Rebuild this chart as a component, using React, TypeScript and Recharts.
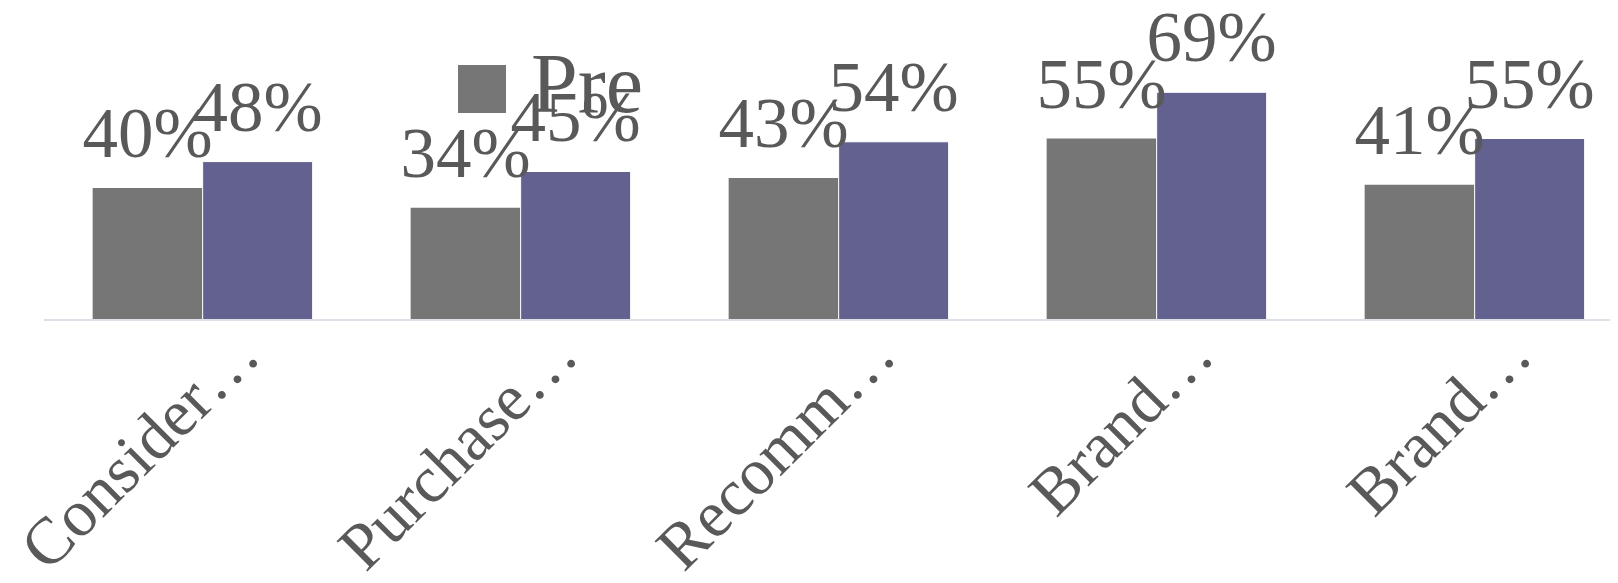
import React from "react";
import { BarChart, Bar, XAxis, YAxis, LabelList, Legend } from "recharts";

const categories = ["Consider…", "Purchase…", "Recomm…", "Brand…", "Brand…"];
const preValues = [40, 34, 43, 55, 41];
const postValues = [48, 45, 54, 69, 55];
const seriesNames = ["Pre", "Post"];

const data = categories.map((c, i) => ({
  id: i,
  name: c,
  pre: preValues[i],
  post: postValues[i],
}));

const FONT = "'Liberation Serif', 'Times New Roman', serif";
const TEXT = "#595959";
const GRAY = "#767676";
const PURPLE = "#62618f";

const CustomTick = (props: any) => {
  const { x, y, payload } = props;
  const ax = x + 60;
  const ay = y + 38;
  return (
    <text
      x={ax}
      y={ay}
      transform={`rotate(-45 ${ax} ${ay})`}
      textAnchor="end"
      fontFamily={FONT}
      fontSize={66}
      fill={TEXT}
    >
      {categories[payload.index] ?? payload.value}
    </text>
  );
};

const LegendContent = () => (
  <svg width={220} height={70} style={{ overflow: "visible", display: "block" }}>
    <rect x={0} y={0} width={48} height={48} fill={GRAY} />
    <text x={73} y={47} fontFamily={FONT} fontSize={84} fill={TEXT}>
      {seriesNames[0]}
    </text>
  </svg>
);

export default function App() {
  return (
    <div style={{ width: 1610, height: 567, overflow: "hidden", position: "relative" }}>
      <BarChart
        width={1626}
        height={567}
        data={data}
        margin={{ top: 48, right: 0, bottom: 0, left: 36 }}
        barCategoryGap="15.3%"
        barGap={0}
      >
        <XAxis
          dataKey="id"
          type="category"
          height={255}
          tickLine={false}
          tickSize={0}
          tickMargin={0}
          interval={0}
          axisLine={{ stroke: "#dde1e7", strokeWidth: 2 }}
          tick={<CustomTick />}
        />
        <YAxis hide domain={[0, 80]} />
        <Legend
          layout="horizontal"
          verticalAlign="middle"
          align="center"
          wrapperStyle={{ position: "absolute", top: 57, left: 450, width: 220, height: 70 }}
          content={<LegendContent />}
        />
        <Bar dataKey="pre" name={seriesNames[0]} fill={GRAY} isAnimationActive={false}>
          <LabelList
            dataKey="pre"
            position="top"
            offset={31}
            formatter={(v: any) => `${v}%`}
            style={{ fontFamily: FONT, fontSize: 71, fill: TEXT }}
          />
        </Bar>
        <Bar
          dataKey="post"
          name={seriesNames[1]}
          fill={PURPLE}
          stroke="#ffffff"
          strokeWidth={1}
          legendType="none"
          isAnimationActive={false}
        >
          <LabelList
            dataKey="post"
            position="top"
            offset={31}
            formatter={(v: any) => `${v}%`}
            style={{ fontFamily: FONT, fontSize: 71, fill: TEXT }}
          />
        </Bar>
      </BarChart>
    </div>
  );
}
